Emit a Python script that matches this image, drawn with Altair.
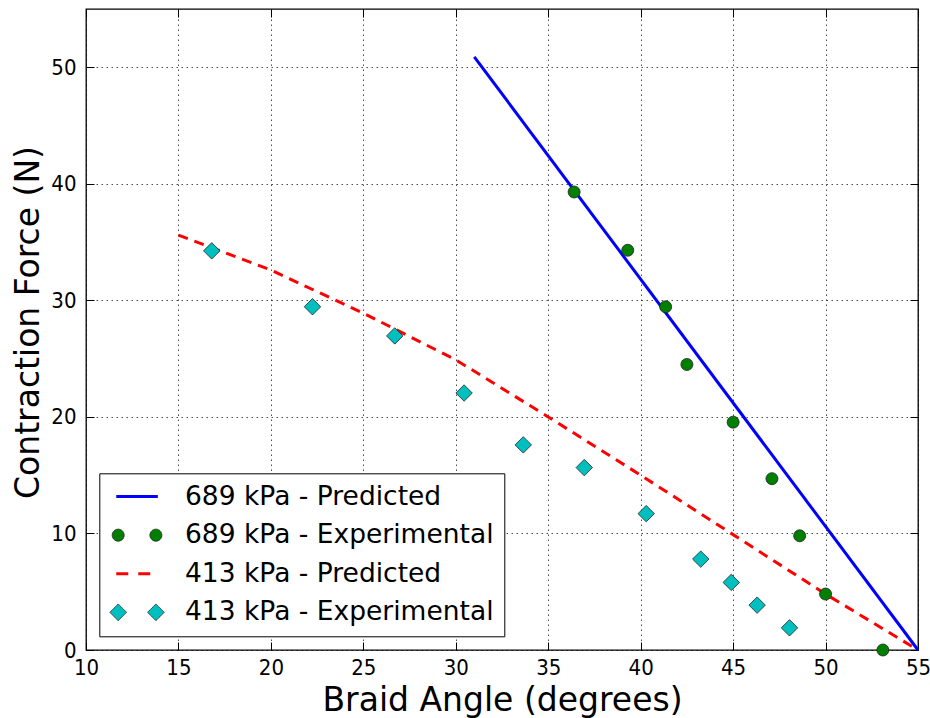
import altair as alt
import pandas as pd

# ---------------- data ----------------
SERIES = ["689 kPa - Predicted", "689 kPa - Experimental",
          "413 kPa - Predicted", "413 kPa - Experimental"]
COLORS = ["#0000ff", "#007f00", "#ff0000", "#00bfbf"]

pred689_angle = [31.0, 55.0]
pred689_force = [50.9, 0.0]

exp689_angle = [36.4, 39.3, 41.35, 42.5, 45.0, 47.1, 48.6, 50.0, 53.1]
exp689_force = [39.3, 34.3, 29.45, 24.5, 19.55, 14.7, 9.8, 4.8, 0.0]

pred413_angle = [15, 20, 25, 30, 35, 40, 45, 50, 55]
pred413_force = [35.6, 32.6, 28.9, 24.9, 20.0, 15.0, 9.9, 4.8, 0.0]

exp413_angle = [16.8, 22.25, 26.7, 30.45, 33.65, 36.95, 40.3, 43.25, 44.9, 46.3, 48.05]
exp413_force = [34.25, 29.45, 26.95, 22.05, 17.6, 15.65, 11.7, 7.8, 5.8, 3.85, 1.9]

x_ticks = [10, 15, 20, 25, 30, 35, 40, 45, 50, 55]
y_ticks = [0, 10, 20, 30, 40, 50]

# ---------------- tables ----------------
df_p689 = pd.DataFrame({"angle": pred689_angle, "force": pred689_force})
df_p413 = pd.DataFrame({"angle": pred413_angle, "force": pred413_force})
df_exp = pd.concat([
    pd.DataFrame({"angle": exp689_angle, "force": exp689_force, "series": SERIES[1]}),
    pd.DataFrame({"angle": exp413_angle, "force": exp413_force, "series": SERIES[3]}),
], ignore_index=True)

W, H = 832, 641
FONT = "DejaVu Sans"
TICKFONT = "DejaVu Sans Condensed, DejaVu Sans"

xscale = alt.Scale(domain=[10, 55], nice=False, zero=False)
yscale = alt.Scale(domain=[0, 55], nice=False, zero=False)

GRID = dict(grid=True, gridColor="black", gridDash=[1.5, 3.5], gridWidth=1, gridOpacity=0.7)

main_x_axis = alt.Axis(
    values=x_ticks, title="Braid Angle (degrees)", ticks=False, tickSize=0, domain=False,
    labelFlush=False, labelOverlap=False, labelPadding=7, labelFont=TICKFONT, labelFontSize=22,
    labelColor="black", titleFont=FONT, titleFontSize=33, titleFontWeight="normal",
    titleColor="black", titleBaseline="alphabetic", titleY=60, **GRID)
main_y_axis = alt.Axis(
    values=y_ticks, title="Contraction Force (N)", ticks=False, tickSize=0, domain=False,
    labelFlush=False, labelOverlap=False, labelPadding=10, labelFont=TICKFONT, labelFontSize=22,
    labelColor="black", labelBaseline="middle", titleFont=FONT, titleFontSize=33,
    titleFontWeight="normal", titleColor="black", titleAngle=-90, titleAlign="center",
    titleBaseline="middle", titleX=-58, titleY=313, **GRID)


def tick_axis(values, orient, offset):
    return alt.Axis(values=values, orient=orient, offset=offset, labels=False, title=None,
                    grid=False, domain=False, ticks=True, tickSize=8, tickColor="black",
                    tickWidth=1)


# ---------------- legend symbols ----------------
def circle_path(cx, r):
    k = 0.5523 * r
    return (f"M{cx - r},0C{cx - r},{-k} {cx - k},{-r} {cx},{-r}"
            f"C{cx + k},{-r} {cx + r},{-k} {cx + r},0"
            f"C{cx + r},{k} {cx + k},{r} {cx},{r}"
            f"C{cx - k},{r} {cx - r},{k} {cx - r},0Z")


def diamond_path(cx, h):
    return f"M{cx - h},0L{cx},{-h}L{cx + h},0L{cx},{h}Z"


LINE_PATH = "M-4.16,0L4.16,0"
CIRC_PATH = circle_path(-3.77, 1.2) + " " + circle_path(3.77, 1.2)
DIAM_PATH = diamond_path(-3.77, 1.67) + " " + diamond_path(3.77, 1.67)


def pick(a, b, c, d):
    return (f"datum.value === '{SERIES[0]}' ? {a} : datum.value === '{SERIES[1]}' ? {b} : "
            f"datum.value === '{SERIES[2]}' ? {c} : {d}")


legend = alt.Legend(
    orient="none", legendX=13.3, legendY=464.3, title=None, padding=10,
    strokeColor="black", fillColor="white", labelFont=FONT, labelFontSize=26.5,
    labelColor="black", labelLimit=600, symbolSize=100, symbolOffset=14.5,
    labelOffset=34.7, rowPadding=11.6, symbolOpacity=1,
    symbolType={"expr": pick(f"'{LINE_PATH}'", f"'{CIRC_PATH}'", f"'{LINE_PATH}'", f"'{DIAM_PATH}'")},
    symbolStrokeColor={"expr": pick(f"'{COLORS[0]}'", "'#222222'", f"'{COLORS[2]}'", "'#222222'")},
    symbolStrokeWidth={"expr": pick("3", "0.8", "3", "0.8")},
    symbolDash={"expr": pick("[1,0]", "[1,0]", "[12,10]", "[1,0]")},
)

# ---------------- layers ----------------
blue = alt.Chart(df_p689).mark_line(color=COLORS[0], strokeWidth=3).encode(
    x=alt.X("angle:Q", scale=xscale, axis=main_x_axis),
    y=alt.Y("force:Q", scale=yscale, axis=main_y_axis),
)

red = alt.Chart(df_p413).mark_line(color=COLORS[2], strokeWidth=3, strokeDash=[10, 7]).encode(
    x=alt.X("angle:Q", scale=xscale, axis=tick_axis(x_ticks, "top", -H)),
    y=alt.Y("force:Q", scale=yscale, axis=tick_axis(y_ticks, "right", -W)),
)

shape_enc = alt.Shape("series:N", scale=alt.Scale(domain=[SERIES[1], SERIES[3]],
                                                  range=["circle", "diamond"]), legend=None)
size_enc = alt.Size("series:N", scale=alt.Scale(domain=[SERIES[1], SERIES[3]],
                                                range=[144, 270]), legend=None)

pts = alt.Chart(df_exp).mark_point(filled=True, opacity=1).encode(
    x=alt.X("angle:Q", scale=xscale, axis=tick_axis(x_ticks, "bottom", -H)),
    y=alt.Y("force:Q", scale=yscale, axis=tick_axis(y_ticks, "left", -W)),
    fill=alt.Fill("series:N", scale=alt.Scale(domain=SERIES, range=COLORS), legend=legend),
    shape=shape_enc,
    size=size_enc,
)

outline = alt.Chart(df_exp).mark_point(filled=False, stroke="#222222", strokeWidth=0.8,
                                       opacity=1).encode(
    x=alt.X("angle:Q", scale=xscale, axis=None),
    y=alt.Y("force:Q", scale=yscale, axis=None),
    shape=shape_enc,
    size=size_enc,
)

chart = alt.layer(blue, red, pts, outline).resolve_axis(
    x="independent", y="independent"
).properties(
    width=W, height=H,
    autosize=alt.AutoSizeParams(type="none"),
    padding={"left": 86, "top": 9, "right": 12, "bottom": 68},
    background="white",
).configure_view(stroke="black", strokeWidth=1.3)

chart.save("out.html", embed_options={"renderer": "svg", "actions": False})
